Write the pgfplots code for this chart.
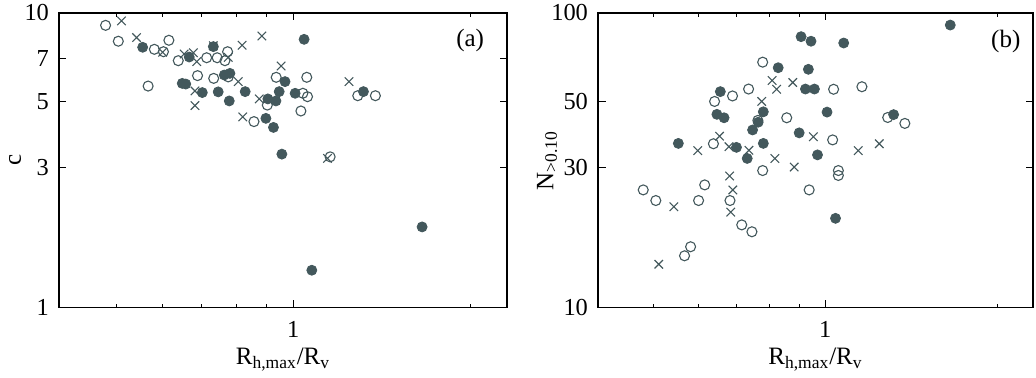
\documentclass[border=0pt]{standalone}
\usepackage{fontspec}
\setmainfont{Liberation Serif}
\usepackage{pgfplots}
\pgfplotsset{compat=1.18}
\definecolor{dk}{HTML}{43585C}
\begin{document}
\begin{tikzpicture}
\path[use as bounding box] (-29.5pt,-35.15pt) rectangle (488.5pt,153.85pt);
\begin{loglogaxis}[scale only axis, width=224pt, height=147.35pt,
  at={(0pt,0pt)}, anchor=south west,
  xmin=0.4, xmax=2.31,
  xtick={1}, xticklabels={1},
  minor xtick={0.5,0.6,0.7,0.8,0.9,2},
  ymin=1, ymax=10, ytick={1,3,5,7,10}, yticklabels={1,3,5,7,10},
  yminorticks=false,
  tick align=inside,
  major tick length=3.75pt, minor tick length=1.85pt,
  axis line style={line width=0.6pt},
  tick style={line width=0.5pt, black},
  tick label style={font=\fontsize{12.2}{14}\selectfont},
  label style={font=\fontsize{12.5}{14}\selectfont},
  xticklabel style={yshift=-3.5pt},
  yticklabel style={xshift=-1.5pt},
  xlabel style={at={(axis description cs:0.5,-0.176)}, anchor=center},
  ylabel style={at={(axis description cs:-0.0982,0.5)}, anchor=center},
  xlabel={R\textsubscript{h,max}/R\textsubscript{v}},
  ylabel={c},
  clip=false,
]
\addplot[only marks, mark=o, mark size=2.5pt, mark options={draw=dk, line width=0.55pt}] table {
0.480 9.08
0.5045 8.02
0.615 8.08
0.581 7.53
0.602 7.39
0.638 6.89
0.713 7.05
0.743 7.05
0.774 7.39
0.766 6.89
0.688 6.13
0.733 6.00
0.776 6.07
0.567 5.65
0.936 6.05
1.055 6.05
1.039 5.34
1.058 5.20
0.904 4.87
1.031 4.65
0.858 4.28
1.156 3.25
1.288 5.24
1.380 5.24
};
\addplot[only marks, mark=*, mark size=2.5pt, mark options={draw=dk, fill=dk}] table {
0.555 7.65
0.732 7.69
0.666 7.09
0.648 5.77
0.657 5.74
0.701 5.37
0.746 5.40
0.779 5.03
0.764 6.16
0.781 6.24
0.829 5.41
1.044 8.14
0.969 5.85
0.947 5.41
0.906 5.11
0.935 5.03
1.008 5.34
0.899 4.39
0.926 4.09
0.957 3.32
1.317 5.41
1.076 1.34
1.657 1.88
};
\addplot[only marks, mark=x, mark size=3pt, mark options={draw=dk, line width=0.55pt}] table {
0.511 9.40
0.542 8.25
0.600 7.36
0.653 7.26
0.677 7.33
0.686 6.84
0.681 5.44
0.681 4.85
0.732 7.75
0.776 7.07
0.819 7.77
0.807 5.85
0.821 4.44
0.885 8.36
0.954 6.61
0.876 5.11
1.245 5.85
1.144 3.21
};
\node[font=\fontsize{12.5}{14}\selectfont] at (axis cs:2.0,8.04) {(a)};
\end{loglogaxis}
\begin{loglogaxis}[scale only axis, width=217.5pt, height=147.35pt,
  at={(269.5pt,0pt)}, anchor=south west,
  xmin=0.4, xmax=2.31,
  xtick={1}, xticklabels={1},
  minor xtick={0.5,0.6,0.7,0.8,0.9,2},
  ymin=10, ymax=100, ytick={10,30,50,100}, yticklabels={10,30,50,100},
  yminorticks=false,
  tick align=inside,
  major tick length=3.75pt, minor tick length=1.85pt,
  axis line style={line width=0.6pt},
  tick style={line width=0.5pt, black},
  tick label style={font=\fontsize{12.2}{14}\selectfont},
  label style={font=\fontsize{12.5}{14}\selectfont},
  xticklabel style={yshift=-3.5pt},
  yticklabel style={xshift=-1.5pt},
  xlabel style={at={(axis description cs:0.5,-0.176)}, anchor=center},
  ylabel style={at={(axis description cs:-0.117,0.5)}, anchor=center},
  xlabel={R\textsubscript{h,max}/R\textsubscript{v}},
  ylabel={N\textsubscript{>0.10}},
  clip=false,
]
\addplot[only marks, mark=o, mark size=2.5pt, mark options={draw=dk, line width=0.55pt}] table {
0.777 68.1
0.734 55.2
0.688 52.3
0.640 50.1
0.762 43.2
0.856 44.1
0.637 36.0
0.777 29.2
0.480 25.1
0.505 23.1
0.615 26.1
0.600 23.1
0.681 23.1
0.714 19.1
0.744 18.1
0.581 16.1
0.567 15.0
1.034 55.1
1.159 56.2
1.286 44.2
1.378 42.2
1.030 37.1
1.054 29.2
1.054 28.1
0.937 25.1
};
\addplot[only marks, mark=*, mark size=2.5pt, mark options={draw=dk, fill=dk}] table {
1.655 91.0
0.907 83.1
0.944 80.2
1.077 79.1
0.827 65.2
0.934 64.4
0.923 55.2
0.957 55.2
1.007 46.1
1.317 45.2
0.900 39.2
0.969 33.0
1.042 20.1
0.655 54.1
0.646 45.3
0.665 44.1
0.779 46.2
0.763 42.6
0.746 40.1
0.553 36.1
0.699 35.0
0.779 36.1
0.730 32.1
};
\addplot[only marks, mark=x, mark size=3pt, mark options={draw=dk, line width=0.55pt}] table {
0.511 14.04
0.543 22.0
0.598 34.1
0.653 38.2
0.678 35.2
0.680 28.0
0.689 25.1
0.683 21.1
0.735 34.2
0.774 50.1
0.807 59.0
0.822 55.1
0.877 58.1
0.816 32.1
0.882 30.0
0.953 38.0
1.142 34.1
1.243 36.0
};
\node[font=\fontsize{12.5}{14}\selectfont] at (axis cs:2.07,80.3) {(b)};
\end{loglogaxis}
\end{tikzpicture}
\end{document}
